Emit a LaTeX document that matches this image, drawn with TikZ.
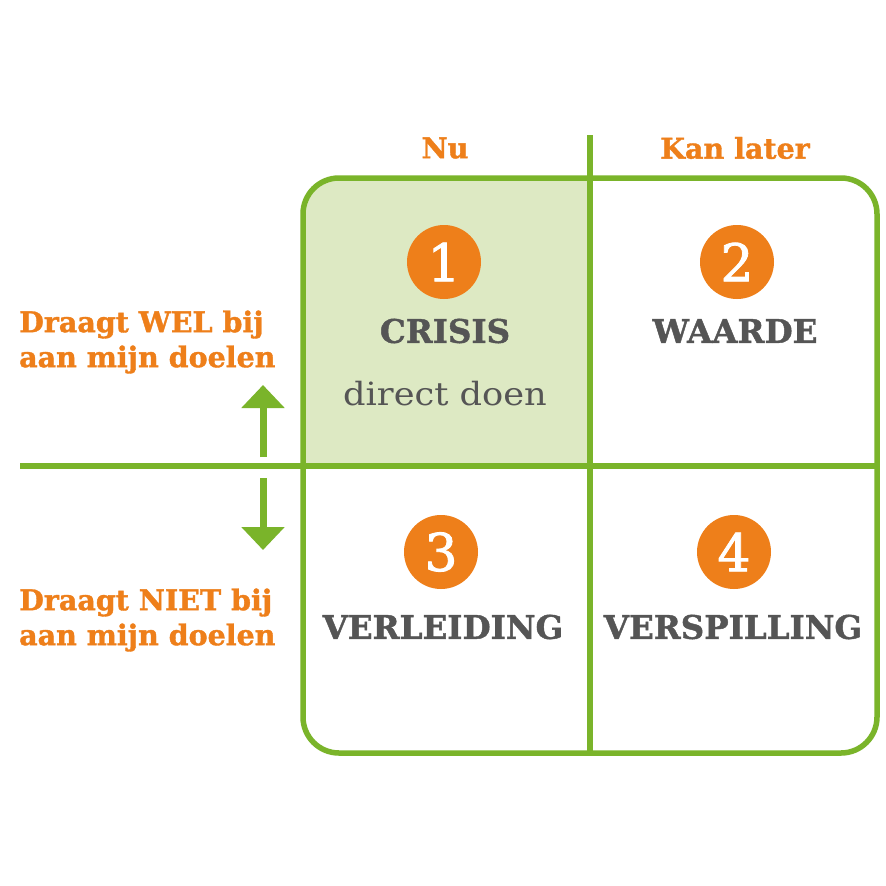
\documentclass[tikz,border=0pt]{standalone}
\usepackage{fontspec}
\setmainfont{DejaVu Serif}
\newfontface\hv{DejaVu Serif Bold}[FakeBold=1.3]
\newfontface\md{DejaVu Serif}[FakeBold=1.6]
\usetikzlibrary{arrows.meta}
\definecolor{grn}{HTML}{7AB42A}
\definecolor{lgrn}{HTML}{DDE9C3}
\definecolor{org}{HTML}{EE7F1A}
\definecolor{dgray}{HTML}{555555}
\tikzset{
  gline/.style={draw=grn, line width=5.5pt},
  arr/.style={draw=grn, line width=7pt, -{Triangle[width=42pt,length=23pt]}},
  num/.style={circle, fill=org, minimum size=74pt, inner sep=0pt, text=white, font=\fontsize{52}{52}\md},
  head/.style={text=dgray, font=\fontsize{32.5}{32.5}\hv, inner sep=0pt},
  colhead/.style={text=org, font=\fontsize{28.5}{28.5}\hv, inner sep=0pt},
  rowlab/.style={text=org, font=\fontsize{28.5}{35}\hv, align=left, anchor=west, inner sep=0pt},
}
\begin{document}
\begin{tikzpicture}[x=1pt, y=-1pt]
\useasboundingbox (0,0) rectangle (886,886);
\fill[white] (0,0) rectangle (886,886);
% light fill of quadrant 1
\begin{scope}
  \clip[rounded corners=36pt] (303,178) rectangle (877,753);
  \fill[lgrn] (303,178) rectangle (590,466);
\end{scope}
% grid
\draw[gline, rounded corners=36pt] (303,178) rectangle (877,753);
\coordinate (vtop) at (590,135);
\coordinate (vbot) at (590,753);
\coordinate (hl) at (20,466);
\coordinate (hr) at (877,466);
\draw[gline] (vtop) -- (vbot);
\draw[gline] (hl) -- (hr);
% arrows
\coordinate (upS) at (263,457);
\coordinate (upT) at (263,385);
\coordinate (dnS) at (263,478);
\coordinate (dnT) at (263,550);
\draw[arr] (upS) -- (upT);
\draw[arr] (dnS) -- (dnT);
% column heads
\node[colhead] (nu) at (445,148) {Nu};
\node[colhead] (later) at (735,148) {Kan later};
% row labels
\node[rowlab] (wel) at (19,342) {Draagt WEL bij\\aan mijn doelen};
\node[rowlab] (niet) at (19,620) {Draagt NIET bij\\aan mijn doelen};
% circles
\node[num] (n1) at (444,262) {1};
\node[num] (n2) at (737,262) {2};
\node[num] (n3) at (441,552) {3};
\node[num] (n4) at (734,552) {4};
% headings
\node[head] (crisis) at (445,331) {CRISIS};
\node[text=dgray, font=\fontsize{32}{32}\selectfont, inner sep=0pt] (direct) at (445,394) {\scalebox{1.1}[1]{direct doen}};
\node[head] (waarde) at (735,331) {WAARDE};
\node[head] (verl) at (443,627) {VERLEIDING};
\node[head] (versp) at (733,627) {VERSPILLING};
\end{tikzpicture}
\end{document}
